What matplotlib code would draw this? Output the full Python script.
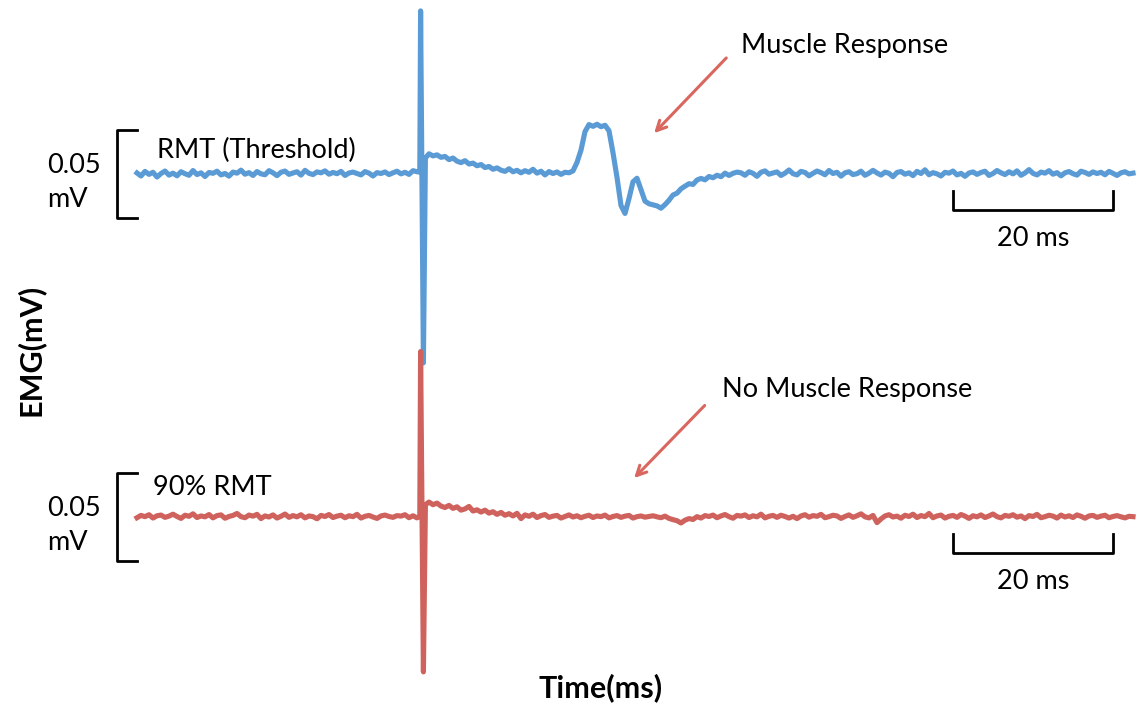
import numpy as np
import matplotlib.pyplot as plt

# EMG traces in microvolts. Baseline and post-stimulus parts are sampled
# every 0.5 ms; the stimulus artefact gets its own sample times.
dt = 0.5
post_start = 36.5     # ms
spike_t = [35.35, 35.45, 35.8, 36.05]

blue_pre = [
    0.5, -1.2, 1.4, -0.3, 0.9, -1.8, 0.2, 1.6, -0.7, 0.4,
    -1.1, 1.2, 0.1, -0.8, 1.9, -0.4, 0.6, -1.5, 0.8, 0.3,
    1.5, -0.6, 0.2, -1.3, 1.0, 0.4, 2.1, -0.2, 0.7, -0.9,
    1.3, 0.0, -0.5, 1.8, 0.6, -1.0, 0.9, 1.6, -0.3, 0.5,
    1.2, -0.7, 2.0, 0.3, -0.4, 1.1, 0.6, 1.7, -0.2, 0.8,
    0.1, 1.4, -0.9, 0.5, 1.0, 0.2, -0.6, 1.3, 0.4, -1.2,
    0.7, 0.2, 1.1, -0.4, 0.6, 1.5, 0.0, 0.9, -0.3, 1.8,
    1.2,
]
blue_spike = [1.0, 92.6, -107.4, 9.0]
blue_post = [
    # decay of the artefact and the motor evoked potential
    11.4, 10.2, 10.8, 9.4, 9.9, 8.1, 9.0, 7.2, 6.4, 7.5,
    5.6, 6.1, 4.6, 5.3, 3.6, 4.2, 2.6, 3.4, 2.1, 1.4,
    2.9, 1.2, 2.0, 0.6, 1.8, 0.9, 2.6, 0.4, 1.5, -0.6,
    1.3, 0.2, 1.1, -0.3, 0.9, 0.6, 1.7, 6.5, 13.5, 24.0,
    28.0, 27.0, 28.2, 26.8, 27.6, 24.5, 12.0, -2.0, -18.0, -22.5,
    -14.0, -4.5, -2.5, -9.0, -15.5, -17.0, -17.6, -18.2, -19.5, -17.5,
    -15.0, -12.0, -11.0, -8.5, -7.0, -5.6, -6.0, -3.5, -2.6, -3.4,
    -1.5, -2.2, -0.8, -1.6, 0.4, -0.9, 0.3, 1.0,
    # back to baseline
    0.6, -0.8, 1.2, 0.3, -1.4, 0.9, 1.7, -0.2, 0.5, 1.1,
    -0.9, 0.4, 2.2, 0.1, -0.6, 1.4, 0.8, -1.1, 0.3, 1.6,
    0.7, -0.5, 1.9, 0.2, 0.9, -1.3, 0.6, 1.2, -0.4, 0.1,
    1.5, -0.8, 0.4, 2.0, 0.5, -0.7, 1.0, 0.3, -1.6, 0.8,
    1.3, -0.2, 0.6, -1.0, 1.4, 0.2, 2.3, -0.5, 0.7, 0.0,
    -1.2, 0.9, 0.4, 1.6, -0.6, 0.3, -1.4, 0.5, 1.1, -0.3,
    0.8, 1.5, -0.9, 0.2, 1.9, 0.6, -0.4, 1.2, 0.0, 1.7,
    -0.8, 0.5, 2.4, 0.3, -0.6, 1.0, 0.4, 1.8, -0.2, 0.7,
    -1.1, 0.6, 1.3, 0.1, -0.7, 1.5, 0.8, -0.3, 1.1, 0.2,
    0.9, -0.5, 1.4, 0.3, -0.9, 0.6, 1.2, 0.0, 0.4,
]

red_pre = [
    -0.4, 0.9, 0.2, 1.3, -0.6, 0.7, 1.1, -0.2, 0.5, 1.6,
    0.3, -0.8, 1.0, 0.4, 1.8, -0.3, 0.6, 0.1, 1.4, -0.5,
    0.8, 1.2, -0.7, 0.3, 0.9, 2.0, 0.2, -0.4, 1.1, 0.5,
    1.5, -0.9, 0.6, 0.0, 1.2, -0.6, 0.4, 1.7, -0.2, 0.8,
    0.1, 1.3, -0.5, 0.6, 0.2, -1.0, 0.9, 0.3, 1.4, -0.3,
    0.5, 1.0, -0.4, 0.7, 0.2, 1.5, -0.6, 0.4, 0.9, 0.0,
    -0.8, 0.6, 1.1, 0.3, -0.2, 0.8, 0.5, 1.3, -0.4, 0.7,
    -0.5,
]
red_spike = [0.5, 94.0, -88.0, 7.0]
red_post = [
    8.5, 7.0, 7.9, 6.2, 5.4, 6.6, 4.9, 5.8, 3.9, 4.6,
    6.0, 3.4, 4.1, 2.8, 3.9, 2.2, 3.0, 1.5, 2.6, 1.0,
    1.9, 0.6, 2.1, -0.9, 1.2, 0.4, 1.6, -0.3, 0.8, 1.4,
    -0.2, 0.5, 0.9, -0.6, 0.3, 1.2, 0.0, 0.7, -0.4, 0.4,
    1.0, -0.3, 0.6, 0.2, 1.1, -0.5, 0.3, 0.8, -0.2, 0.5,
    0.9, -0.6, 0.2, 0.6, -0.1, 0.3, 0.7, 0.1, -0.4, 0.5,
    -0.8, -1.5, -2.1, -3.4, -1.8, -0.9, -1.4, 0.2, -0.6, 0.8,
    0.3, 1.1, -0.4, 0.6, 1.4, 0.2, -0.7, 0.9, 0.5, 1.2,
    -0.3, 0.7, 0.1, 1.6, -0.5, 0.4, 0.9, -0.2, 1.0, 0.3,
    -0.6, 0.4, -0.9, 0.6, 1.3, -0.1, 0.8, 0.4, 1.5, -0.4,
    0.2, 1.0, 0.6, -0.8, 0.3, 1.2, -0.2, 0.7, 1.8, 0.1,
    -0.5, 0.9, -3.2, -1.1, 0.6, 1.3, 0.0, 0.5, -0.7, 1.0,
    0.3, 1.6, -0.3, 0.8, 0.2, 2.0, -0.4, 0.6, 1.1, -0.6,
    0.4, 0.9, -0.2, 1.4, 0.5, -0.8, 0.7, 0.1, 1.2, -0.3,
    0.6, 1.7, 0.2, -0.5, 0.9, 0.4, 1.3, -0.1, 0.6, -0.9,
    0.8, 0.3, 1.5, -0.4, 0.2, 1.0, 0.5, -0.6, 1.1, 0.0,
    0.7, -0.3, 1.2, 0.4, -0.7, 0.6, 0.9, -0.2, 0.5, 1.0,
    -0.4, 0.3, 0.8, 0.1, -0.5, 0.4, 0.2,
]

offset_blue = 0.195   # mV, vertical shift of the threshold trace
scale_mv = 0.05
scale_ms = 20
scale_start = 102     # ms

blue_col = '#5B9BD5'
red_col = '#CF625C'
arrow_col = '#D9675F'
fs = 19.5

plt.rcParams['font.family'] = ['Lato', 'DejaVu Sans']


def build(pre, spike, post):
    t = np.concatenate([np.arange(len(pre)) * dt, spike_t,
                        post_start + np.arange(len(post)) * dt])
    v = np.array(pre + spike + post) / 1000.0   # -> mV
    return t, v


t_blue, blue = build(blue_pre, blue_spike, blue_post)
t_red, red = build(red_pre, red_spike, red_post)

fig = plt.figure(figsize=(11.39, 7.06), dpi=100)
ax = fig.add_axes([0, 0, 1, 1])
ax.set_xlim(-17.125, 125.25)
ax.set_ylim(-0.1074, 0.2938)
ax.axis('off')

ax.plot(t_blue, blue + offset_blue, color=blue_col, lw=3.7, solid_joinstyle='round')
ax.plot(t_red, red, color=red_col, lw=3.7, solid_joinstyle='round')


def amp_bar(base):
    # vertical bracket for 0.05 mV, centred on the trace baseline
    lo, hi = base - scale_mv / 2, base + scale_mv / 2
    ax.plot([0, -2.5, -2.5, 0], [hi, hi, lo, lo], color='black', lw=2.0)
    ax.text(-11.25, base + 0.0047, '0.05', fontsize=fs, va='center', ha='left')
    ax.text(-11.25, base - 0.0145, 'mV', fontsize=fs, va='center', ha='left')


def time_bar(base):
    # horizontal bracket for 20 ms
    x0, x1 = scale_start, scale_start + scale_ms
    top, bot = base - 0.0095, base - 0.0205
    ax.plot([x0, x0, x1, x1], [top, bot, bot, top], color='black', lw=2.0)
    ax.text((x0 + x1) / 2, base - 0.0365, '20 ms', fontsize=fs, ha='center', va='center')


amp_bar(offset_blue)
amp_bar(0)
time_bar(offset_blue)
time_bar(0)

ax.text(2.5, offset_blue + 0.0135, 'RMT (Threshold)', fontsize=fs, va='center')
ax.text(2.0, 0.0165, '90% RMT', fontsize=fs, va='center')

arrow = dict(arrowstyle='->,head_length=0.7,head_width=0.35', color=arrow_col, lw=2.2)
ax.text(75.5, 0.268, 'Muscle Response', fontsize=fs, va='center')
ax.annotate('', xy=(64.4, 0.217), xytext=(73.9, 0.262), arrowprops=arrow)
ax.text(73.1, 0.0722, 'No Muscle Response', fontsize=fs, va='center')
ax.annotate('', xy=(61.9, 0.021), xytext=(71.2, 0.0645), arrowprops=arrow)

ax.text(-13.4, 0.0949, 'EMG(mV)', fontsize=22, fontweight='bold',
        rotation=90, ha='center', va='center')
ax.text(57.9, -0.097, 'Time(ms)', fontsize=22, fontweight='bold',
        ha='center', va='center')

fig.savefig('out.png', dpi=100)
